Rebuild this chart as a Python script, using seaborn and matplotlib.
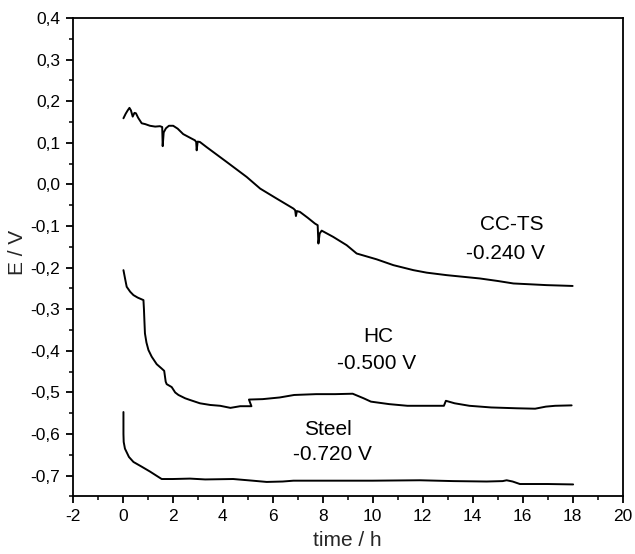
import matplotlib
matplotlib.use("Agg")
import matplotlib.pyplot as plt
from matplotlib.ticker import FuncFormatter, MultipleLocator
import pandas as pd
import seaborn as sns

# Open-circuit potential vs. time for three coatings/substrates
cc_ts_time = [0.03, 0.12, 0.2, 0.27, 0.33, 0.4, 0.47, 0.53, 0.62, 0.76, 0.9, 1.09,
              1.3, 1.49, 1.58, 1.6, 1.64, 1.73, 1.85, 2.02, 2.2, 2.42, 2.7, 2.89,
              2.94, 2.96, 3.0, 3.09, 3.35, 3.62, 4.16, 4.96, 5.5, 6.16, 6.83, 6.9,
              6.93, 6.97, 7.09, 7.4, 7.69, 7.8, 7.83, 7.88, 7.96, 8.42, 8.96, 9.36,
              10.16, 10.83, 11.63, 12.16, 12.96, 14.29, 15.0, 15.63, 16.3, 16.96,
              17.5, 18.0]
cc_ts_e = [0.159, 0.170, 0.178, 0.184, 0.178, 0.163, 0.172, 0.171, 0.160, 0.147,
           0.145, 0.141, 0.139, 0.140, 0.138, 0.092, 0.125, 0.135, 0.141, 0.141,
           0.134, 0.121, 0.112, 0.106, 0.102, 0.082, 0.103, 0.102, 0.090, 0.078,
           0.054, 0.018, -0.010, -0.034, -0.058, -0.062, -0.076, -0.064, -0.066,
           -0.080, -0.094, -0.098, -0.142, -0.118, -0.111, -0.126, -0.146, -0.166,
           -0.180, -0.194, -0.206, -0.212, -0.218, -0.226, -0.232, -0.238, -0.240,
           -0.242, -0.243, -0.244]

hc_time = [0.03, 0.1, 0.16, 0.3, 0.43, 0.6, 0.83, 0.85, 0.87, 0.89, 0.95, 1.03,
           1.16, 1.36, 1.55, 1.66, 1.72, 1.76, 1.96, 2.1, 2.23, 2.5, 2.69, 3.09,
           3.5, 3.9, 4.31, 4.7, 5.15, 5.05, 5.6, 6.28, 6.86, 7.74, 8.5, 9.2, 9.64,
           9.93, 10.66, 11.39, 12.1, 12.85, 12.93, 13.28, 13.87, 14.74, 15.77,
           16.5, 16.93, 17.3, 17.96]
hc_e = [-0.206, -0.228, -0.246, -0.258, -0.266, -0.272, -0.278, -0.300, -0.330,
        -0.358, -0.380, -0.398, -0.414, -0.432, -0.442, -0.448, -0.474, -0.480,
        -0.487, -0.500, -0.506, -0.514, -0.518, -0.526, -0.530, -0.532, -0.537,
        -0.533, -0.533, -0.517, -0.516, -0.512, -0.506, -0.504, -0.504, -0.503,
        -0.514, -0.522, -0.528, -0.532, -0.532, -0.532, -0.520, -0.526, -0.532,
        -0.536, -0.538, -0.539, -0.534, -0.532, -0.531]

steel_time = [0.03, 0.03, 0.04, 0.09, 0.25, 0.43, 0.75, 1.09, 1.35, 1.56, 2.0,
              2.69, 3.3, 4.42, 5.2, 5.76, 6.4, 6.83, 8.0, 10.0, 11.89, 13.23,
              14.56, 15.2, 15.36, 15.6, 15.89, 17.0, 18.02]
steel_e = [-0.547, -0.600, -0.619, -0.635, -0.655, -0.667, -0.678, -0.690, -0.700,
           -0.708, -0.708, -0.707, -0.709, -0.708, -0.712, -0.715, -0.714, -0.712,
           -0.712, -0.712, -0.711, -0.713, -0.714, -0.713, -0.711, -0.714, -0.720,
           -0.720, -0.721]

# Curve names and their final potentials, written next to each curve
series_names = ["CC-TS", "HC", "Steel"]
final_potentials = ["-0.240 V", "-0.500 V", "-0.720 V"]
name_xy = [(15.57, -0.096), (10.23, -0.366), (8.2, -0.589)]
value_xy = [(15.33, -0.166), (10.16, -0.430), (8.4, -0.649)]

x_ticks = list(range(-2, 21, 2))
y_ticks = [0.4, 0.3, 0.2, 0.1, 0.0, -0.1, -0.2, -0.3, -0.4, -0.5, -0.6, -0.7]

sns.set_theme(style="ticks")
plt.rcParams["font.family"] = ["Liberation Sans", "DejaVu Sans"]

fig = plt.figure(figsize=(6.35, 5.54), dpi=100)
ax = fig.add_axes([0.1145, 0.1038, 0.866, 0.8637])

curves = [(cc_ts_time, cc_ts_e), (hc_time, hc_e), (steel_time, steel_e)]
for name, (t, e) in zip(series_names, curves):
    df = pd.DataFrame({"time": t, "E": e})
    sns.lineplot(data=df, x="time", y="E", sort=False, estimator=None,
                 color="black", linewidth=1.4, ax=ax)

for name, value, (nx, ny), (vx, vy) in zip(series_names, final_potentials,
                                            name_xy, value_xy):
    ax.text(nx, ny, name, ha="center", va="center", fontsize=15, color="black")
    ax.text(vx, vy, value, ha="center", va="center", fontsize=15, color="black")

ax.set_xlim(-2, 20)
ax.set_ylim(-0.75, 0.4)
ax.set_xticks(x_ticks)
ax.set_yticks(y_ticks)
ax.xaxis.set_minor_locator(MultipleLocator(1))
ax.yaxis.set_minor_locator(MultipleLocator(0.05))
ax.yaxis.set_major_formatter(FuncFormatter(lambda v, p: f"{v:.1f}".replace(".", ",")))
ax.xaxis.set_major_formatter(FuncFormatter(lambda v, p: f"{int(round(v))}"))

ax.tick_params(axis="both", which="major", direction="out", length=5, width=1.3,
               labelsize=12.5, colors="black", pad=4)
ax.tick_params(axis="both", which="minor", direction="out", length=3, width=1.3)
ax.tick_params(top=False, right=False)
for s in ax.spines.values():
    s.set_visible(True)
    s.set_linewidth(1.3)
    s.set_color("black")

ax.set_xlabel("time / h", fontsize=15)
ax.set_ylabel("E / V", fontsize=15)
ax.xaxis.set_label_coords(0.5, -0.072)
ax.yaxis.set_label_coords(-0.083, 0.51)

fig.savefig("out.png", dpi=100, facecolor="white")
